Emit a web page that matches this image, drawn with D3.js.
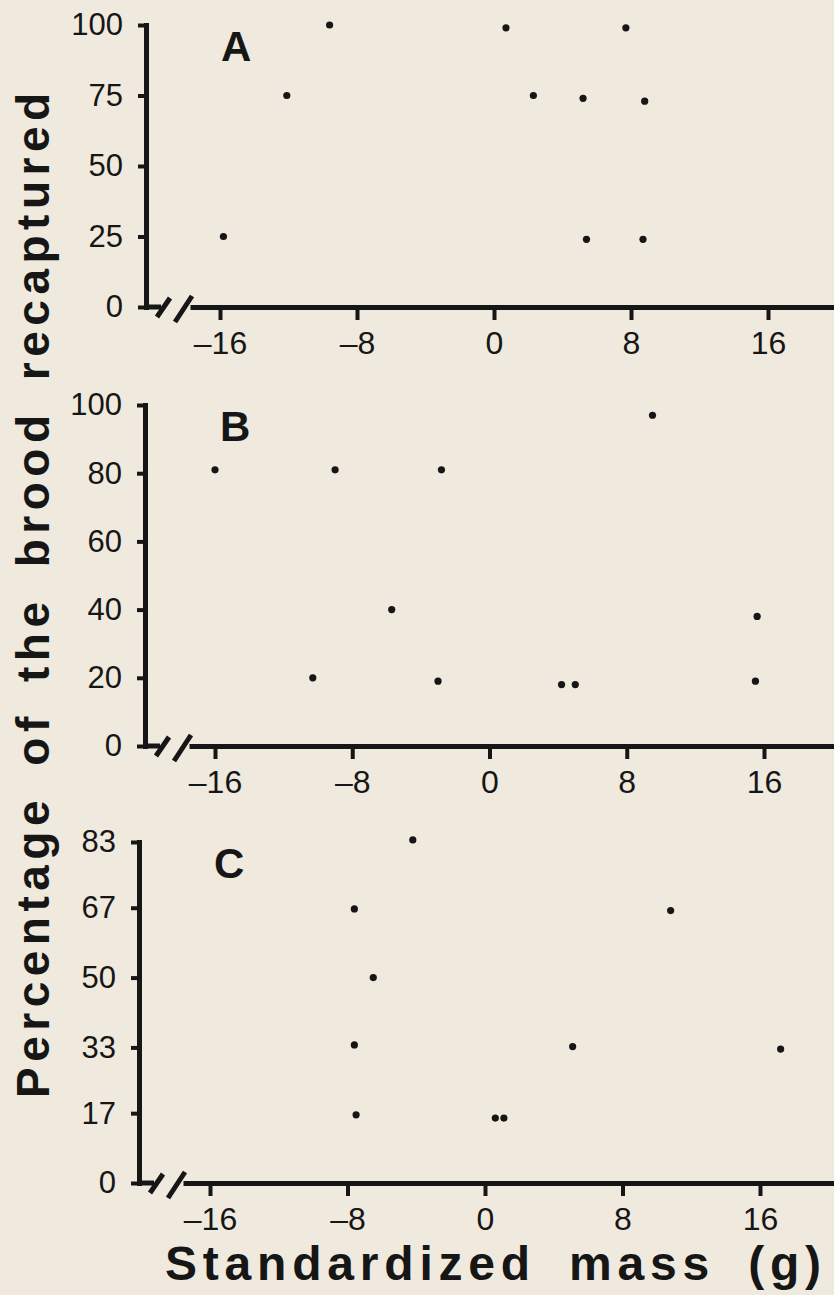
<!DOCTYPE html>
<html lang="en">
<head>
    <meta charset="utf-8" />
    <title>Percentage of the brood recaptured vs standardized mass</title>
    <script src="https://d3js.org/d3.v7.min.js"></script>
    <style>
        body {
            margin: 0;
            background: #efeadd;
        }

        svg {
            display: block;
        }

        text {
            font-family: "Liberation Sans", Arial, Helvetica, sans-serif;
            fill: #161616;
        }

        .title {
            font-weight: bold;
        }
    </style>
</head>

<body>
    <div id="chart"></div>
    <script>
        var xTicks = [-16, -8, 0, 8, 16];
        var panelLabels = ['A', 'B', 'C'];

        // y tick labels for each panel
        var ticksA = [0, 25, 50, 75, 100];
        var ticksB = [0, 20, 40, 60, 80, 100];
        var ticksC = [0, 17, 33, 50, 67, 83];

        // standardized mass (g) and percentage recaptured
        var massA = [-9.6, 0.7, 7.7, -12.1, 2.3, 5.2, 8.8, -15.8, 5.4, 8.7];
        var pctA = [100, 99, 99, 75, 75, 74, 73, 25, 24, 24];

        var massB = [9.5, -16.0, -9.0, -2.8, -5.7, 15.6, -10.3, -3.0, 4.2, 5.0, 15.5];
        var pctB = [97, 81, 81, 81, 40, 38, 20, 19, 18, 18, 19];

        var massC = [-4.2, -7.6, 10.8, -6.5, -7.6, 5.1, 17.2, -7.5, 0.6, 1.1];
        var pctC = [83.5, 66.7, 66.3, 50, 33.6, 33.2, 32.6, 16.6, 15.8, 15.8];

        (function(d3) {
            'use strict';

            var width = 834;
            var height = 1295;
            var ink = '#161616';

            var svg = d3.select('#chart')
                .append('svg')
                .attr('width', width)
                .attr('height', height);

            svg.append('rect')
                .attr('width', width)
                .attr('height', height)
                .attr('fill', '#efeadd');

            var fmt = function(d) {
                return d < 0 ? '\u2013' + Math.abs(d) : d;
            };

            var panels = [
                { label: panelLabels[0], mass: massA, pct: pctA, ticks: ticksA, left: 146, top: 25, base: 307, lo: 220, hi: 768 },
                { label: panelLabels[1], mass: massB, pct: pctB, ticks: ticksB, left: 145, top: 405, base: 746, lo: 215, hi: 764 },
                { label: panelLabels[2], mass: massC, pct: pctC, ticks: ticksC, left: 139, top: 842, base: 1183, lo: 210, hi: 760 }
            ];

            panels.forEach(function(p) {
                var x = d3.scaleLinear()
                    .domain([xTicks[0], xTicks[xTicks.length - 1]])
                    .range([p.lo, p.hi]);
                var y = d3.scaleLinear()
                    .domain([0, d3.max(p.ticks)])
                    .range([p.base, p.top]);

                // x axis starts after the break and runs off the right edge
                var axisStart = p.left + 44;
                var xLine = x.copy()
                    .domain([x.invert(axisStart), x.invert(width)])
                    .range([axisStart, width]);

                var gx = svg.append('g')
                    .attr('transform', 'translate(0,' + p.base + ')')
                    .call(d3.axisBottom(xLine)
                        .tickValues(xTicks)
                        .tickSize(13)
                        .tickSizeOuter(0)
                        .tickPadding(11)
                        .tickFormat(fmt));
                gx.select('.domain').attr('stroke', ink).attr('stroke-width', 5);
                gx.selectAll('.tick line').attr('stroke', ink).attr('stroke-width', 4);
                gx.selectAll('.tick text').style('font-size', '32px');

                var gy = svg.append('g')
                    .attr('transform', 'translate(' + p.left + ',0)')
                    .call(d3.axisLeft(y)
                        .tickValues(p.ticks)
                        .tickSize(8)
                        .tickSizeOuter(0)
                        .tickPadding(15));
                gy.select('.domain').attr('stroke', ink).attr('stroke-width', 5).attr('stroke-linecap', 'square');
                gy.selectAll('.tick line').attr('stroke', ink).attr('stroke-width', 4);
                gy.selectAll('.tick text').style('font-size', '31px');

                // axis break
                var brk = svg.append('g')
                    .attr('stroke', ink)
                    .attr('stroke-width', 5)
                    .attr('fill', 'none');
                brk.append('path')
                    .attr('d', 'M' + p.left + ',' + p.base + 'h15');
                brk.append('path')
                    .attr('d', 'M' + (p.left + 11) + ',' + (p.base + 10) + 'L' + (p.left + 24) + ',' + (p.base - 9));
                brk.append('path')
                    .attr('d', 'M' + (p.left + 29) + ',' + (p.base + 15) + 'L' + (p.left + 46) + ',' + (p.base - 11));

                svg.append('g')
                    .selectAll('circle')
                    .data(d3.zip(p.mass, p.pct))
                    .enter()
                    .append('circle')
                    .attr('cx', function(d) { return x(d[0]); })
                    .attr('cy', function(d) { return y(d[1]); })
                    .attr('r', 3.6)
                    .attr('fill', ink);

                svg.append('text')
                    .attr('class', 'title')
                    .attr('x', p.left + 75)
                    .attr('y', p.top + 36)
                    .style('font-size', '42px')
                    .text(p.label);
            });

            svg.append('text')
                .attr('class', 'title')
                .attr('transform', 'translate(49,1098) rotate(-90)')
                .style('font-size', '46px')
                .style('letter-spacing', '5.5px')
                .style('word-spacing', '11px')
                .text('Percentage of the brood recaptured');

            svg.append('text')
                .attr('class', 'title')
                .attr('x', 165)
                .attr('y', 1280)
                .style('font-size', '48px')
                .style('letter-spacing', '5.8px')
                .style('word-spacing', '14px')
                .text('Standardized mass (g)');
        })(window.d3);
    </script>
</body>

</html>
